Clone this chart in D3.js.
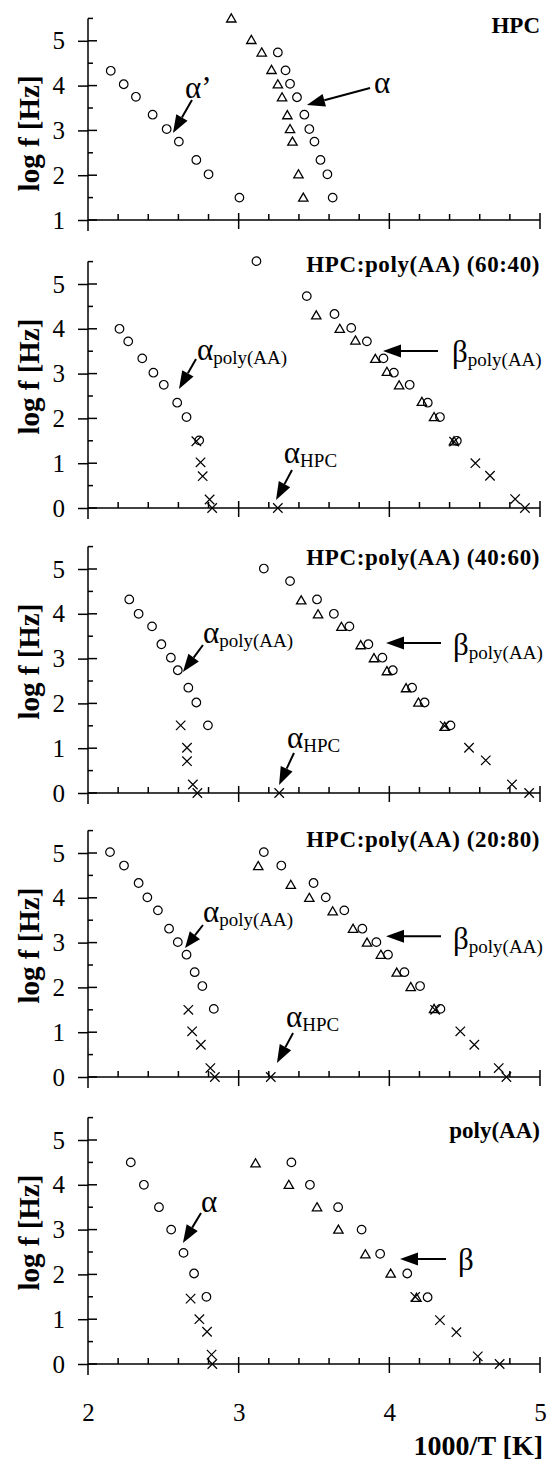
<!DOCTYPE html>
<html>
<head>
<meta charset="utf-8">
<script src="https://cdn.jsdelivr.net/npm/d3@7"></script>
<style>
  body { margin: 0; background: #fff; }
  svg { display: block; }
  text { font-family: "Liberation Serif", "Times New Roman", serif; fill: #000; }
</style>
</head>
<body>
<svg width="550" height="1462"></svg>
<script>
// ---- data: [1000/T, log f] ----
const hpcCircles = [
    [2.151, 4.33], [2.237, 4.03], [2.318, 3.75], [2.429, 3.35], [2.522, 3.03], [2.603, 2.75],
    [2.719, 2.34], [2.80, 2.02], [3.005, 1.5],
    [3.26, 4.74], [3.311, 4.34], [3.341, 4.04], [3.387, 3.74], [3.436, 3.35], [3.469, 3.03],
    [3.503, 2.75], [3.543, 2.34], [3.589, 2.02], [3.624, 1.5]
];
const hpcTriangles = [
    [2.951, 5.48], [3.084, 5.0], [3.153, 4.72], [3.218, 4.33], [3.26, 4.01], [3.288, 3.72],
    [3.323, 3.32], [3.341, 3.01], [3.357, 2.73], [3.397, 2.0], [3.429, 1.48]
];

const mix6040Circles = [
    [2.209, 4.0], [2.267, 3.72], [2.36, 3.34], [2.434, 3.02], [2.503, 2.75], [2.592, 2.35],
    [2.654, 2.03], [2.738, 1.51], [3.118, 5.51],
    [3.452, 4.73], [3.636, 4.33], [3.747, 4.02], [3.851, 3.72], [3.961, 3.34], [4.03, 3.02],
    [4.135, 2.75], [4.255, 2.35], [4.336, 2.03], [4.448, 1.5]
];
const mix6040Triangles = [
    [3.515, 4.28], [3.671, 3.98], [3.775, 3.72], [3.907, 3.31], [3.984, 3.02], [4.065, 2.72],
    [4.216, 2.35], [4.297, 2.01], [4.429, 1.47]
];
const mix6040Crosses = [
    [2.719, 1.49], [2.747, 1.02], [2.761, 0.71], [2.807, 0.19], [2.824, 0], [3.26, 0],
    [4.43, 1.48], [4.571, 1.0], [4.668, 0.72], [4.835, 0.2], [4.90, 0]
];

const mix4060Circles = [
    [2.274, 4.32], [2.336, 4.0], [2.425, 3.72], [2.487, 3.32], [2.55, 3.02], [2.596, 2.74],
    [2.666, 2.35], [2.719, 2.02], [2.796, 1.51], [3.167, 5.01],
    [3.341, 4.73], [3.52, 4.32], [3.632, 4.0], [3.735, 3.72], [3.861, 3.32], [3.954, 3.02],
    [4.023, 2.74], [4.151, 2.35], [4.234, 2.02], [4.406, 1.51]
];
const mix4060Triangles = [
    [3.415, 4.28], [3.527, 3.97], [3.682, 3.69], [3.81, 3.28], [3.898, 2.99], [3.984, 2.70],
    [4.111, 2.32], [4.193, 2.0], [4.367, 1.46]
];
const mix4060Crosses = [
    [2.615, 1.51], [2.657, 1.01], [2.657, 0.71], [2.696, 0.19], [2.726, 0], [3.269, 0],
    [4.367, 1.5], [4.529, 1.01], [4.64, 0.73], [4.814, 0.19], [4.928, 0]
];

const mix2080Circles = [
    [2.146, 5.02], [2.239, 4.72], [2.336, 4.33], [2.394, 4.01], [2.464, 3.72], [2.538, 3.31],
    [2.596, 3.01], [2.654, 2.73], [2.708, 2.34], [2.759, 2.03], [2.835, 1.52],
    [3.167, 5.02], [3.283, 4.72], [3.497, 4.33], [3.578, 4.01], [3.701, 3.72], [3.821, 3.31],
    [3.914, 3.01], [3.991, 2.73], [4.10, 2.34], [4.204, 2.03], [4.339, 1.52]
];
const mix2080Triangles = [
    [3.13, 4.69], [3.346, 4.27], [3.469, 3.98], [3.624, 3.68], [3.759, 3.29], [3.852, 2.98],
    [3.944, 2.71], [4.049, 2.31], [4.142, 1.99], [4.297, 1.5]
];
const mix2080Crosses = [
    [2.666, 1.5], [2.691, 1.02], [2.749, 0.72], [2.812, 0.2], [2.842, 0], [3.213, 0],
    [4.304, 1.5], [4.471, 1.02], [4.564, 0.72], [4.726, 0.2], [4.777, 0]
];

const paaCircles = [
    [2.284, 4.5], [2.371, 4.0], [2.471, 3.5], [2.552, 3.0], [2.634, 2.48], [2.704, 2.02], [2.786, 1.5],
    [3.35, 4.5], [3.473, 4.0], [3.66, 3.5], [3.816, 3.0], [3.939, 2.46], [4.119, 2.02], [4.254, 1.49]
];
const paaTriangles = [
    [3.112, 4.46], [3.333, 3.98], [3.52, 3.48], [3.662, 2.98], [3.841, 2.43], [4.009, 2.0], [4.18, 1.46]
];
const paaCrosses = [
    [2.681, 1.46], [2.739, 1.0], [2.79, 0.72], [2.82, 0.21], [2.825, 0],
    [4.172, 1.5], [4.336, 0.98], [4.445, 0.71], [4.587, 0.17], [4.732, 0]
];

const titles = ["HPC", "HPC:poly(AA) (60:40)", "HPC:poly(AA) (40:60)", "HPC:poly(AA) (20:80)", "poly(AA)"];
const xTickLabels = [2, 3, 4, 5];

// annotations (in data units): label, subscript, label pos, arrow start, arrow tip
const notes = [
    [
        { main: "α’", sub: "", at: [2.644, 3.72], from: [2.69, 3.68], to: [2.564, 2.94] },
        { main: "α", sub: "", at: [3.898, 3.835], from: [3.872, 3.946], to: [3.453, 3.567] }
    ],
    [
        { main: "α", sub: "poly(AA)", at: [2.723, 3.30], from: [2.717, 3.326], to: [2.604, 2.656] },
        { main: "α", sub: "HPC", at: [3.30, 1.0], from: [3.354, 0.848], to: [3.248, 0.179] },
        { main: "β", sub: "poly(AA)", at: [4.416, 3.26], from: [4.323, 3.504], to: [3.958, 3.504] }
    ],
    [
        { main: "α", sub: "poly(AA)", at: [2.763, 3.348], from: [2.763, 3.304], to: [2.63, 2.70] },
        { main: "α", sub: "HPC", at: [3.321, 1.0], from: [3.367, 0.893], to: [3.268, 0.179] },
        { main: "β", sub: "poly(AA)", at: [4.423, 3.08], from: [4.343, 3.348], to: [3.978, 3.348] }
    ],
    [
        { main: "α", sub: "poly(AA)", at: [2.763, 3.46], from: [2.763, 3.393], to: [2.644, 2.879] },
        { main: "α", sub: "HPC", at: [3.314, 1.116], from: [3.361, 0.982], to: [3.254, 0.3125] },
        { main: "β", sub: "poly(AA)", at: [4.423, 2.85], from: [4.343, 3.14], to: [3.978, 3.14] }
    ],
    [
        { main: "α", sub: "", at: [2.75, 3.39], from: [2.75, 3.37], to: [2.63, 2.70] },
        { main: "β", sub: "", at: [4.456, 2.10], from: [4.376, 2.344], to: [4.071, 2.344] }
    ]
];

// ---- layout ----
const svg = d3.select("svg");
const axisX = 88;
const unit = 44.8;
const panels = [
    { lo: 1, base: 220, circles: hpcCircles, triangles: hpcTriangles, crosses: [], titleY: 33 },
    { lo: 0, base: 508, circles: mix6040Circles, triangles: mix6040Triangles, crosses: mix6040Crosses, titleY: 272 },
    { lo: 0, base: 793, circles: mix4060Circles, triangles: mix4060Triangles, crosses: mix4060Crosses, titleY: 565 },
    { lo: 0, base: 1077, circles: mix2080Circles, triangles: mix2080Triangles, crosses: mix2080Crosses, titleY: 847 },
    { lo: 0, base: 1364, circles: paaCircles, triangles: paaTriangles, crosses: paaCrosses, titleY: 1138 }
];

const x = d3.scaleLinear().domain([2, 5]).range([axisX, 540]);
const xMinor = d3.range(2.2, 5, 0.2).filter((v) => Math.abs(v - Math.round(v)) > 1e-6);

const circleSym = d3.symbol().type(d3.symbolCircle).size(58);
const triSym = d3.symbol().type(d3.symbolTriangle).size(38);
const crossSym = d3.symbol().type(d3.symbolX).size(60);

function drawArrow(g, x0, y0, x1, y1) {
    const dx = x1 - x0, dy = y1 - y0;
    const len = Math.hypot(dx, dy);
    const ux = dx / len, uy = dy / len;
    const head = Math.min(18, len * 0.55), half = 6.5;
    const bx = x1 - ux * head, by = y1 - uy * head;
    g.append("line")
        .attr("x1", x0).attr("y1", y0).attr("x2", bx).attr("y2", by)
        .attr("stroke", "#000").attr("stroke-width", 2);
    g.append("path")
        .attr("d", `M${x1},${y1}L${bx - uy * half},${by + ux * half}L${bx + uy * half},${by - ux * half}Z`)
        .attr("fill", "#000");
}

panels.forEach((p, i) => {
    const y = d3.scaleLinear().domain([p.lo, 5.5]).range([p.base, p.base - (5.5 - p.lo) * unit]);
    const g = svg.append("g");
    const yMajor = d3.range(p.lo, 5.01, 1);
    const yMinor = d3.range(p.lo + 0.5, 5.6, 1);

    // y axis with labels
    const ya = g.append("g")
        .attr("transform", `translate(${axisX},0)`)
        .call(d3.axisLeft(y).tickValues(yMajor).tickSize(10).tickPadding(13).tickFormat(d3.format("d")));
    ya.select(".domain").remove();
    ya.attr("font-family", null).attr("font-size", null);
    ya.selectAll("text").style("font-size", "25px");
    ya.selectAll("line").attr("stroke-width", 1.5);

    g.append("line")
        .attr("x1", axisX).attr("x2", axisX)
        .attr("y1", y(5.5)).attr("y2", p.base + 11)
        .attr("stroke", "#000").attr("stroke-width", 1.5);
    g.selectAll(".yr").data(yMajor).enter().append("line")
        .attr("x1", axisX).attr("x2", axisX + 9)
        .attr("y1", (d) => y(d)).attr("y2", (d) => y(d))
        .attr("stroke", "#000").attr("stroke-width", 1.5);
    g.selectAll(".ym").data(yMinor).enter().append("line")
        .attr("x1", axisX).attr("x2", axisX + 5)
        .attr("y1", (d) => y(d)).attr("y2", (d) => y(d))
        .attr("stroke", "#000").attr("stroke-width", 1.5);

    // x axis
    g.append("line")
        .attr("x1", axisX).attr("x2", x(5))
        .attr("y1", p.base).attr("y2", p.base)
        .attr("stroke", "#000").attr("stroke-width", 1.5);
    g.selectAll(".xm").data(xMinor).enter().append("line")
        .attr("x1", (d) => x(d)).attr("x2", (d) => x(d))
        .attr("y1", p.base - 6).attr("y2", p.base)
        .attr("stroke", "#000").attr("stroke-width", 1.5);
    g.selectAll(".xM").data([3, 4, 5]).enter().append("line")
        .attr("x1", (d) => x(d)).attr("x2", (d) => x(d))
        .attr("y1", p.base - 7).attr("y2", p.base + 9)
        .attr("stroke", "#000").attr("stroke-width", 1.5);

    // y label
    g.append("text")
        .attr("transform", `translate(39,${y(3) + 3}) rotate(-90)`)
        .attr("text-anchor", "middle")
        .style("font-size", "29px").style("font-weight", "bold")
        .text("log f [Hz]");

    // title
    g.append("text")
        .attr("x", 540).attr("y", p.titleY)
        .attr("text-anchor", "end")
        .style("font-size", "23px").style("font-weight", "bold")
        .style("letter-spacing", i === 0 || i === 4 ? "0px" : "0.6px")
        .text(titles[i]);

    // markers
    g.selectAll(".c").data(p.circles).enter().append("path")
        .attr("d", circleSym)
        .attr("transform", (d) => `translate(${x(d[0])},${y(d[1])})`)
        .attr("fill", "none").attr("stroke", "#000").attr("stroke-width", 1.2);
    g.selectAll(".t").data(p.triangles).enter().append("path")
        .attr("d", triSym)
        .attr("transform", (d) => `translate(${x(d[0])},${y(d[1])})`)
        .attr("fill", "none").attr("stroke", "#000").attr("stroke-width", 1.3);
    g.selectAll(".x").data(p.crosses).enter().append("path")
        .attr("d", crossSym)
        .attr("transform", (d) => `translate(${x(d[0])},${y(d[1])})`)
        .attr("fill", "none").attr("stroke", "#000").attr("stroke-width", 1.2);

    // annotations
    notes[i].forEach((n) => {
        drawArrow(g, x(n.from[0]), y(n.from[1]), x(n.to[0]), y(n.to[1]));
        const t = g.append("text")
            .attr("x", x(n.at[0])).attr("y", y(n.at[1]))
            .style("font-size", "31px");
        t.append("tspan").text(n.main);
        if (n.sub) {
            t.append("tspan").attr("dy", 4).style("font-size", "19px").text(n.sub);
        }
    });

    // bottom axis labels
    if (i === panels.length - 1) {
        const xa = g.append("g")
            .attr("transform", `translate(0,${p.base})`)
            .call(d3.axisBottom(x).tickValues(xTickLabels).tickSize(0).tickPadding(39).tickFormat(d3.format("d")));
        xa.select(".domain").remove();
        xa.attr("font-family", null).attr("font-size", null);
        xa.selectAll("text").style("font-size", "25px");

        g.append("text")
            .attr("x", 543).attr("y", 1455)
            .attr("text-anchor", "end")
            .style("font-size", "28px").style("font-weight", "bold")
            .text("1000/T [K]");
    }
});
</script>
</body>
</html>
